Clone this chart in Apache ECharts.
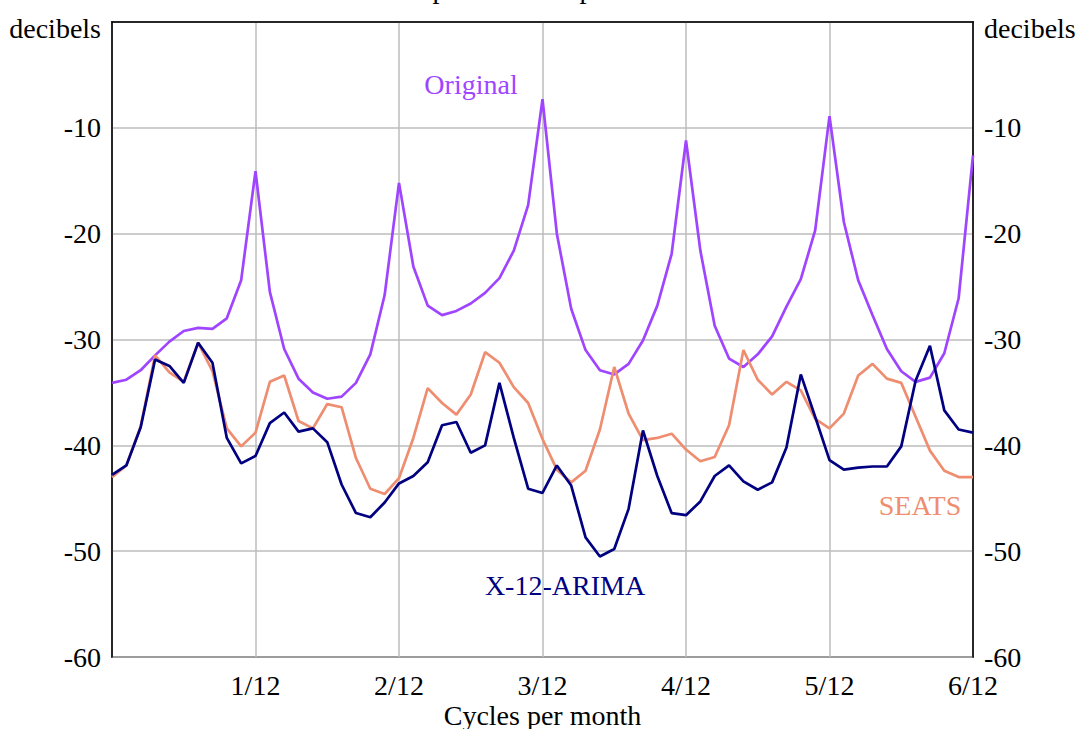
<!DOCTYPE html>
<html>
<head>
<meta charset="utf-8">
<script src="https://cdn.jsdelivr.net/npm/echarts@6/dist/echarts.min.js"></script>
<style>
html,body{margin:0;padding:0;background:#fff;}
#chart{width:1079px;height:729px;}
</style>
</head>
<body>
<div id="chart"></div>
<script>
// Frequency in twelfths of a cycle per month (0 .. 6/12)
var freqTwelfths = [0.0,0.1,0.2,0.3,0.4,0.5,0.6,0.7,0.8,0.9,
  1.0,1.1,1.2,1.3,1.4,1.5,1.6,1.7,1.8,1.9,
  2.0,2.1,2.2,2.3,2.4,2.5,2.6,2.7,2.8,2.9,
  3.0,3.1,3.2,3.3,3.4,3.5,3.6,3.7,3.8,3.9,
  4.0,4.1,4.2,4.3,4.4,4.5,4.6,4.7,4.8,4.9,
  5.0,5.1,5.2,5.3,5.4,5.5,5.6,5.7,5.8,5.9,6.0];

var originalDb = [-34.1,-33.8,-32.9,-31.5,-30.2,-29.2,-28.9,-29.0,-28.0,-24.4,
  -14.1,-25.5,-30.9,-33.7,-35.0,-35.6,-35.4,-34.1,-31.4,-25.8,
  -15.2,-23.1,-26.8,-27.7,-27.3,-26.6,-25.6,-24.2,-21.6,-17.3,
  -7.3,-20.0,-27.1,-31.0,-32.9,-33.3,-32.3,-30.1,-26.8,-21.9,
  -11.2,-21.6,-28.7,-31.8,-32.6,-31.4,-29.7,-26.9,-24.3,-19.7,
  -8.9,-18.9,-24.4,-27.7,-30.9,-33.0,-34.0,-33.6,-31.3,-26.1,-12.6];

var seatsDb = [-43.0,-41.9,-38.2,-31.5,-33.1,-34.0,-30.3,-33.0,-38.4,-40.1,
  -38.8,-34.0,-33.4,-37.7,-38.4,-36.1,-36.4,-41.2,-44.1,-44.6,
  -43.1,-39.3,-34.6,-36.0,-37.1,-35.2,-31.2,-32.2,-34.5,-36.0,
  -39.4,-42.3,-43.5,-42.4,-38.5,-32.6,-37.0,-39.5,-39.3,-38.9,
  -40.4,-41.5,-41.1,-38.1,-31.0,-33.8,-35.2,-34.0,-34.8,-37.5,
  -38.4,-37.0,-33.4,-32.3,-33.7,-34.1,-37.3,-40.5,-42.4,-43.0,-43.0];

var x12Db = [-42.8,-41.9,-38.3,-31.9,-32.5,-34.1,-30.3,-32.2,-39.3,-41.7,
  -41.0,-37.9,-36.9,-38.7,-38.4,-39.7,-43.7,-46.4,-46.8,-45.4,
  -43.6,-42.9,-41.6,-38.1,-37.8,-40.7,-40.0,-34.1,-39.3,-44.1,
  -44.5,-41.9,-43.8,-48.7,-50.5,-49.8,-46.0,-38.6,-42.9,-46.4,
  -46.6,-45.3,-42.9,-41.9,-43.4,-44.2,-43.5,-40.2,-33.3,-37.3,
  -41.4,-42.3,-42.1,-42.0,-42.0,-40.1,-33.9,-30.6,-36.7,-38.5,-38.8];

var xTickLabels = ['', '1/12', '2/12', '3/12', '4/12', '5/12', '6/12'];
var seriesNames = ['Original', 'SEATS', 'X-12-ARIMA'];
var titleText = 'Spectrum comparison';
var xAxisName = 'Cycles per month';
var yAxisUnit = 'decibels';

var FONT = "'Liberation Serif','Times New Roman','DejaVu Serif',serif";
var FS = 28;
var COLORS = ['#9f45ff', '#ee8d6f', '#000080'];

function pairs(ys) {
  return ys.map(function (y, i) { return [freqTwelfths[i], y]; });
}

function yLabel(v) {
  if (v === 0) return '{u|' + yAxisUnit + '}';
  return String(v);
}

var yLabelCommon = {
  fontFamily: FONT, fontSize: FS, color: '#000', margin: 11,
  formatter: yLabel,
  rich: { u: { fontFamily: FONT, fontSize: FS, color: '#000', padding: [12, 0, 0, 0] } }
};

var chart = echarts.init(document.getElementById('chart'), null, { renderer: 'svg' });
chart.setOption({
  backgroundColor: '#fff',
  animation: false,
  title: {
    text: titleText, left: 'center', top: -31,
    textStyle: { fontFamily: FONT, fontSize: FS, fontWeight: 'normal', color: '#000' }
  },
  grid: {
    left: 112, right: 106, top: 22, bottom: 72,
    outerBoundsMode: 'none', containLabel: false,
    show: true, borderColor: '#000', borderWidth: 1.5, backgroundColor: 'transparent'
  },
  xAxis: {
    type: 'value', min: 0, max: 6, interval: 1,
    name: xAxisName, nameLocation: 'middle', nameGap: 44, nameMoveOverlap: false,
    nameTextStyle: { fontFamily: FONT, fontSize: FS, color: '#000' },
    axisLine: { show: true, lineStyle: { color: '#000', width: 1.5 } },
    axisTick: { show: false },
    axisLabel: {
      fontFamily: FONT, fontSize: FS, color: '#000', margin: 14,
      formatter: function (v) { return xTickLabels[Math.round(v)] || ''; }
    },
    splitLine: { show: true, lineStyle: { color: '#bdbdbd', width: 1.5 } }
  },
  yAxis: [
    {
      type: 'value', min: -60, max: 0, interval: 10, position: 'left',
      axisLine: { show: true, lineStyle: { color: '#000', width: 1.5 } },
      axisTick: { show: false },
      axisLabel: yLabelCommon,
      splitLine: { show: true, lineStyle: { color: '#bdbdbd', width: 1.5 } }
    },
    {
      type: 'value', min: -60, max: 0, interval: 10, position: 'right',
      axisLine: { show: true, lineStyle: { color: '#000', width: 1.5 } },
      axisTick: { show: false },
      axisLabel: yLabelCommon,
      splitLine: { show: false }
    }
  ],
  series: [
    { name: seriesNames[0], type: 'line', data: pairs(originalDb), showSymbol: false,
      lineStyle: { color: COLORS[0], width: 2.7 }, itemStyle: { color: COLORS[0] }, z: 2 },
    { name: seriesNames[1], type: 'line', data: pairs(seatsDb), showSymbol: false,
      lineStyle: { color: COLORS[1], width: 2.7 }, itemStyle: { color: COLORS[1] }, z: 3 },
    { name: seriesNames[2], type: 'line', data: pairs(x12Db), showSymbol: false,
      lineStyle: { color: COLORS[2], width: 2.7 }, itemStyle: { color: COLORS[2] }, z: 4 }
  ],
  graphic: [
    { type: 'text', x: 471, y: 84, style: { text: seriesNames[0], fill: COLORS[0], font: FS + 'px ' + FONT, textAlign: 'center', textVerticalAlign: 'middle' } },
    { type: 'text', x: 920, y: 505, style: { text: seriesNames[1], fill: COLORS[1], font: FS + 'px ' + FONT, textAlign: 'center', textVerticalAlign: 'middle' } },
    { type: 'text', x: 565, y: 585, style: { text: seriesNames[2], fill: COLORS[2], font: FS + 'px ' + FONT, textAlign: 'center', textVerticalAlign: 'middle' } }
  ]
});
</script>
</body>
</html>
